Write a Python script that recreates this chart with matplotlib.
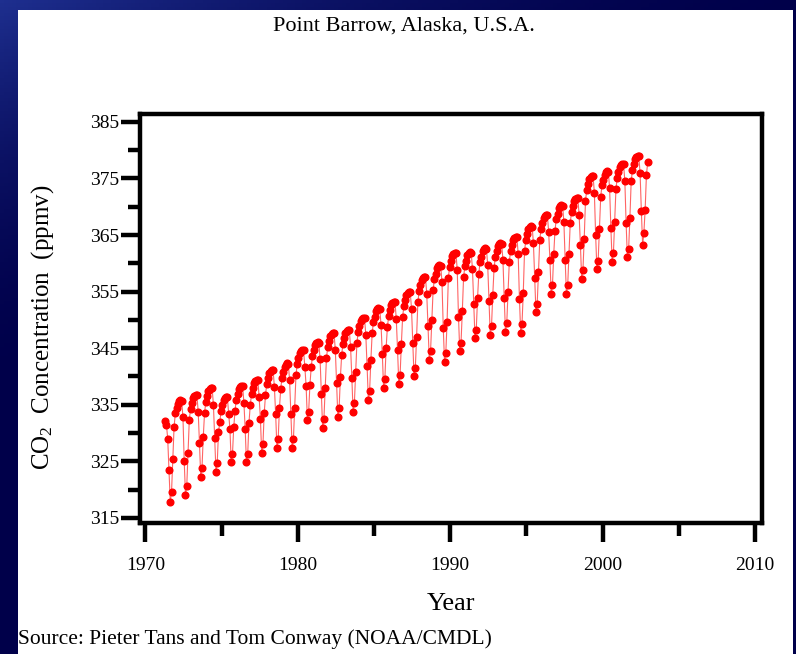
import numpy as np
import matplotlib
matplotlib.use("Agg")
import matplotlib.pyplot as plt
from matplotlib.patches import Rectangle
from matplotlib.colors import LinearSegmentedColormap

plt.rcParams['font.family'] = ['Liberation Serif', 'DejaVu Serif']
plt.rcParams['mathtext.fontset'] = 'custom'
plt.rcParams['mathtext.rm'] = 'Liberation Serif'
plt.rcParams['mathtext.it'] = 'Liberation Serif:italic'

# ---- data -------------------------------------------------------------
title = "Point Barrow, Alaska, U.S.A."
source = "Source: Pieter Tans and Tom Conway (NOAA/CMDL)"
x_label = "Year"
y_label = "CO$_2$  Concentration  (ppmv)"

x_ticks = [1970, 1980, 1990, 2000, 2010]
y_ticks = [315, 325, 335, 345, 355, 365, 375, 385]

start_year = 1971
start_month = 4  # April 1971

# monthly CO2 (ppmv), one row per year
co2_monthly = [
    # 1971 (Apr-Dec)
    332.2, 331.5, 329.0, 323.5, 317.9, 319.5, 325.5, 331.0, 333.5,
    # 1972
    334.5, 335.2, 335.6, 335.9, 335.7, 332.8, 325.0, 319.1, 320.6, 326.5, 332.3, 334.3,
    # 1973
    335.3, 336.2, 336.6, 336.8, 336.7, 333.8, 328.3, 322.3, 323.8, 329.3, 333.5, 335.5,
    # 1974
    336.5, 337.4, 337.8, 338.0, 337.9, 335.0, 329.2, 323.2, 324.7, 330.2, 331.9, 333.9,
    # 1975
    334.9, 335.8, 336.2, 336.4, 336.3, 333.4, 330.8, 324.8, 326.3, 331.0, 333.9, 335.9,
    # 1976
    336.9, 337.8, 338.2, 338.4, 338.3, 335.4, 330.8, 324.8, 326.3, 331.8, 334.9, 336.9,
    # 1977
    337.9, 338.8, 339.2, 339.4, 339.3, 336.4, 332.5, 326.5, 328.0, 333.5, 336.7, 338.7,
    # 1978
    339.7, 340.6, 341.0, 341.2, 341.1, 338.2, 333.4, 327.4, 328.9, 334.4, 337.8, 339.8,
    # 1979
    340.8, 341.7, 342.1, 342.3, 342.2, 339.3, 333.4, 327.4, 328.9, 334.4, 340.2, 342.2,
    # 1980
    343.2, 344.1, 344.5, 344.7, 344.6, 341.7, 338.3, 332.3, 333.8, 338.5, 341.6, 343.6,
    # 1981
    344.6, 345.5, 345.9, 346.1, 346.0, 343.1, 336.9, 330.9, 332.4, 337.9, 343.2, 345.2,
    # 1982
    346.2, 347.1, 347.5, 347.7, 347.6, 344.7, 338.9, 332.9, 334.4, 339.9, 343.8, 345.8,
    # 1983
    346.8, 347.7, 348.1, 348.3, 348.2, 345.3, 339.8, 333.8, 335.3, 340.8, 345.9, 347.9,
    # 1984
    348.9, 349.8, 350.2, 350.4, 350.3, 347.4, 341.9, 335.9, 337.4, 342.9, 347.6, 349.6,
    # 1985
    350.6, 351.5, 351.9, 352.1, 352.0, 349.1, 344.0, 338.0, 339.5, 345.0, 348.7, 350.7,
    # 1986
    351.7, 352.6, 353.0, 353.2, 353.1, 350.2, 344.7, 338.7, 340.2, 345.7, 350.5, 352.5,
    # 1987
    353.5, 354.4, 354.8, 355.0, 354.9, 352.0, 346.0, 340.0, 341.5, 347.0, 353.1, 355.1,
    # 1988
    356.1, 357.0, 357.4, 357.6, 357.5, 354.6, 349.0, 343.0, 344.5, 350.0, 355.2, 357.2,
    # 1989
    358.2, 359.1, 359.5, 359.7, 359.6, 356.7, 348.6, 342.6, 344.1, 349.6, 357.4, 359.4,
    # 1990
    360.4, 361.3, 361.7, 361.9, 361.8, 358.9, 350.5, 344.5, 346.0, 351.5, 357.5, 359.5,
    # 1991
    360.5, 361.4, 361.8, 362.0, 361.9, 359.0, 352.8, 346.8, 348.3, 353.8, 358.2, 360.2,
    # 1992
    361.2, 362.1, 362.5, 362.7, 362.6, 359.7, 353.4, 347.4, 348.9, 354.4, 359.1, 361.1,
    # 1993
    362.1, 363.0, 363.4, 363.6, 363.5, 360.6, 353.9, 347.9, 349.4, 354.9, 360.2, 362.2,
    # 1994
    363.2, 364.1, 364.5, 364.7, 364.6, 361.7, 353.7, 347.7, 349.2, 354.7, 362.1, 364.1,
    # 1995
    365.1, 366.0, 366.4, 366.6, 366.5, 363.6, 357.4, 351.4, 352.9, 358.4, 364.1, 366.1,
    # 1996
    367.1, 368.0, 368.4, 368.6, 368.5, 365.6, 360.6, 354.6, 356.1, 361.6, 365.8, 367.8,
    # 1997
    368.8, 369.7, 370.1, 370.3, 370.2, 367.3, 360.6, 354.6, 356.1, 361.6, 367.1, 369.1,
    # 1998
    370.1, 371.0, 371.4, 371.6, 371.5, 368.6, 363.3, 357.3, 358.8, 364.3, 371.0, 373.0,
    # 1999
    374.0, 374.9, 375.3, 375.5, 375.4, 372.5, 365.0, 359.0, 360.5, 366.0, 371.8, 373.8,
    # 2000
    374.8, 375.7, 376.1, 376.3, 376.2, 373.3, 366.3, 360.3, 361.8, 367.3, 373.1, 375.1,
    # 2001
    376.1, 377.0, 377.4, 377.6, 377.5, 374.6, 367.1, 361.1, 362.6, 368.1, 374.5, 376.5,
    # 2002
    377.5, 378.4, 378.8, 379.0, 378.9, 376.0, 369.3, 363.3, 365.4, 369.5, 375.6, 377.9,
]

# decimal date of every monthly value (mid-month)
month_index = np.arange(len(co2_monthly)) + (start_month - 1)
dates = start_year + (month_index + 0.5) / 12.0

# ---- figure -----------------------------------------------------------
W, H = 796, 654
fig = plt.figure(figsize=(W / 100, H / 100), dpi=100)

# navy background with a soft gradient
bg = fig.add_axes([0, 0, 1, 1], zorder=-10)
bg.set_axis_off()
yy, xx = np.mgrid[0:1:200j, 0:1:200j]
g = np.clip(1 - (xx * 0.9 + yy * 1.6), 0, 1) ** 2
cmap = LinearSegmentedColormap.from_list("navy", ["#00004a", "#1e2f8f"])
bg.imshow(g, cmap=cmap, extent=[0, 1, 0, 1], origin="upper", aspect="auto")
bg.set_xlim(0, 1)
bg.set_ylim(0, 1)
bg.add_patch(Rectangle((18 / W, 0), (793 - 18) / W, 1 - 10 / H,
                       facecolor="white", edgecolor="none"))

ax = fig.add_axes([140 / W, 1 - 523 / H, (762 - 140) / W, (523 - 114) / H])
ax.plot(dates, co2_monthly, color="#ff3030", lw=0.8, alpha=0.75, zorder=2)
ax.plot(dates, co2_monthly, ls="none", marker="o", ms=4.8, color="red",
        mec="red", zorder=3)

ax.set_xlim(1969.64, 2010.46)
ax.set_ylim(314.1, 386.4)
ax.set_xticks(x_ticks)
ax.set_xticks([1975, 1985, 1995, 2005], minor=True)
ax.set_yticks(y_ticks)
ax.set_yticks([320, 330, 340, 350, 360, 370, 380], minor=True)

for s in ax.spines.values():
    s.set_linewidth(3.2)
ax.tick_params(axis="both", which="major", direction="out", length=13.5,
               width=3.2, labelsize=14, pad=1.5)
ax.tick_params(axis="both", which="minor", direction="out", length=9,
               width=3.2)
ax.tick_params(axis="x", which="major", pad=11)
ax.tick_params(top=False, right=False)

ax.set_xlabel(x_label, fontsize=19, labelpad=14)
ax.set_ylabel(y_label, fontsize=18)
ax.yaxis.set_label_coords(-0.135, 0.478)

fig.text(404 / W, 1 - 26 / H, title, ha="center", va="center", fontsize=16)
fig.text(18 / W, 1 - 639 / H, source, ha="left", va="center", fontsize=15.5)

fig.savefig("out.png", dpi=100)
